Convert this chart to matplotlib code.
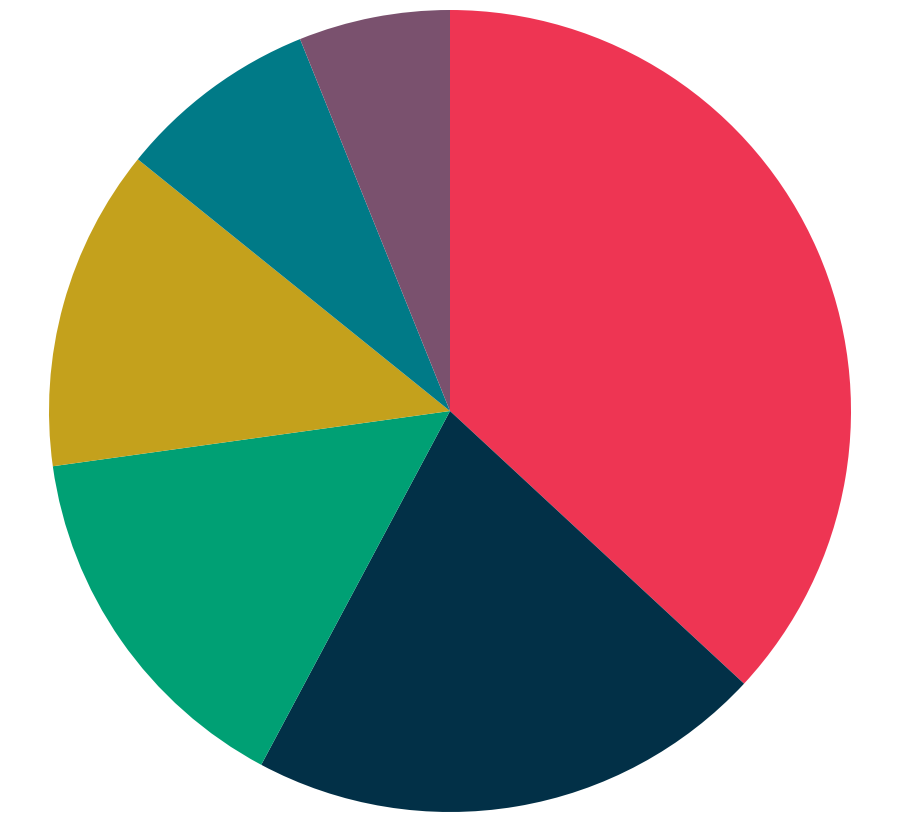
import matplotlib
matplotlib.use("Agg")
import matplotlib.pyplot as plt

# shares of each slice (percent), clockwise from 12 o'clock
shares = [36.9, 20.9, 15.0, 13.0, 8.1, 6.1]
colors = ["#EE3553", "#023047", "#00A074", "#C4A11C", "#007A87", "#7A516E"]

fig = plt.figure(figsize=(9, 8.22), dpi=100)
ax = fig.add_axes([49 / 900, 10 / 822, 802 / 900, 802 / 822])
ax.pie(
    shares,
    colors=colors,
    startangle=90,
    counterclock=False,
    wedgeprops={"linewidth": 0},
)
ax.set_xlim(-1, 1)
ax.set_ylim(-1, 1)
ax.set_aspect("equal")
ax.axis("off")

fig.savefig("out.png", dpi=100, facecolor="white")
